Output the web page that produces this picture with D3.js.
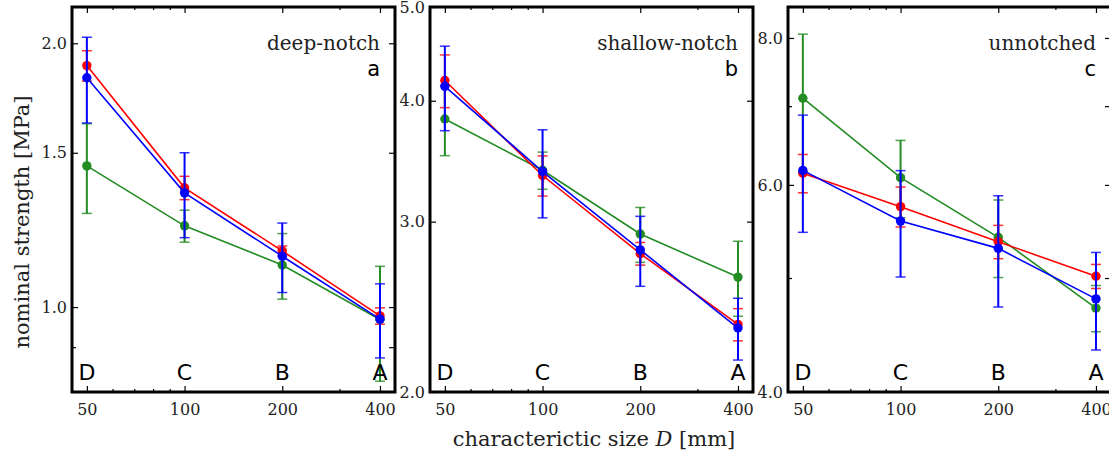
<!DOCTYPE html>
<html>
<head>
<meta charset="utf-8">
<script src="https://cdn.jsdelivr.net/npm/d3@7"></script>
<style>
  body { margin: 0; background: #fff; }
  svg { display: block; }
</style>
</head>
<body>
<svg id="chart" width="1109" height="454"></svg>
<script>
// characteristic sizes D [mm] and specimen labels
var sizes = [50, 100, 200, 400];
var sizeLetters = ["D", "C", "B", "A"];
var xMinor = [60, 70, 80, 90, 300];

var panelNames = ["deep-notch", "shallow-notch", "unnotched"];
var panelTags = ["a", "b", "c"];

// nominal strength [MPa], mean and error, per panel
var deepGreen = [1.449, 1.238, 1.117, 0.968];
var deepGreenErr = [0.17, 0.052, 0.096, 0.145];
var deepRed = [1.886, 1.368, 1.159, 0.977];
var deepRedErr = [0.075, 0.042, 0.015, 0.021];
var deepBlue = [1.827, 1.35, 1.143, 0.969];
var deepBlueErr = [0.205, 0.15, 0.104, 0.094];

var shallowGreen = [3.83, 3.39, 2.913, 2.629];
var shallowGreenErr = [0.32, 0.15, 0.19, 0.234];
var shallowRed = [4.198, 3.348, 2.78, 2.349];
var shallowRedErr = [0.263, 0.16, 0.075, 0.09];
var shallowBlue = [4.14, 3.38, 2.805, 2.329];
var shallowBlueErr = [0.415, 0.353, 0.233, 0.171];

var unGreen = [7.11, 6.086, 5.415, 4.714];
var unGreenErr = [0.95, 0.46, 0.41, 0.213];
var unRed = [6.138, 5.75, 5.368, 5.017];
var unRedErr = [0.23, 0.225, 0.175, 0.118];
var unBlue = [6.173, 5.59, 5.299, 4.80];
var unBlueErr = [0.705, 0.58, 0.575, 0.457];

// y axes (log): domain, labelled ticks, unlabelled ticks
var yDomains = [[0.8, 2.2], [2.0, 5.0], [4.0, 8.5]];
var yLabelled = [[1.0, 1.5, 2.0], [2.0, 3.0, 4.0, 5.0], [4.0, 6.0, 8.0]];
var yMinor = [[0.9], [], [5.0, 7.0]];

var colors = { green: "#238c23", red: "#ff0000", blue: "#0000ff" };

var panelData = [
    [["green", deepGreen, deepGreenErr], ["red", deepRed, deepRedErr], ["blue", deepBlue, deepBlueErr]],
    [["green", shallowGreen, shallowGreenErr], ["red", shallowRed, shallowRedErr], ["blue", shallowBlue, shallowBlueErr]],
    [["green", unGreen, unGreenErr], ["red", unRed, unRedErr], ["blue", unBlue, unBlueErr]]
];

var svg = d3.select("#chart");
svg.append("rect").attr("width", 1109).attr("height", 454).attr("fill", "#fff");

var lefts = [72, 430, 788],
    marginTop = 7,
    width = 323,
    height = 385;

var x = d3.scaleLog().domain([45, 445]).range([0, width]);

function strip(sel) {
    sel.select(".domain").remove();
    sel.selectAll(".tick line").attr("stroke", "#000").attr("stroke-width", 1.2);
    sel.selectAll(".tick text")
        .attr("font-family", "DejaVu Serif, serif")
        .attr("font-size", 16)
        .attr("fill", "#222");
}

lefts.forEach(function (left, i) {
    var y = d3.scaleLog().domain(yDomains[i]).range([height, 0]);
    var g = svg.append("g").attr("transform", "translate(" + left + "," + marginTop + ")");

    // ticks, all pointing inward
    g.append("g").attr("transform", "translate(0," + height + ")")
        .call(d3.axisBottom(x).tickValues(sizes).tickFormat(d3.format("d")).tickSize(-6).tickPadding(12))
        .call(strip);
    g.append("g").attr("transform", "translate(0," + height + ")")
        .call(d3.axisBottom(x).tickValues(xMinor).tickFormat("").tickSize(-3))
        .call(strip);
    g.append("g")
        .call(d3.axisTop(x).tickValues(sizes).tickFormat("").tickSize(-6))
        .call(strip);
    g.append("g")
        .call(d3.axisTop(x).tickValues(xMinor).tickFormat("").tickSize(-3))
        .call(strip);

    g.append("g")
        .call(d3.axisLeft(y).tickValues(yLabelled[i]).tickFormat(d3.format(".1f")).tickSize(-6).tickPadding(5))
        .call(strip);
    g.append("g")
        .call(d3.axisLeft(y).tickValues(yMinor[i]).tickFormat("").tickSize(-4))
        .call(strip);
    g.append("g").attr("transform", "translate(" + width + ",0)")
        .call(d3.axisRight(y).tickValues(yLabelled[i].concat(yMinor[i])).tickFormat("").tickSize(-6))
        .call(strip);

    // series
    panelData[i].forEach(function (s) {
        var c = colors[s[0]], vals = s[1], errs = s[2];
        var pts = sizes.map(function (d, k) { return { x: d, v: vals[k], e: errs[k] }; });
        var sg = g.append("g");

        sg.append("path")
            .datum(pts)
            .attr("fill", "none")
            .attr("stroke", c)
            .attr("stroke-width", 1.6)
            .attr("d", d3.line().x(function (d) { return x(d.x); }).y(function (d) { return y(d.v); }));

        var eb = sg.selectAll(".err").data(pts).enter().append("g");
        eb.append("line")
            .attr("x1", function (d) { return x(d.x); })
            .attr("x2", function (d) { return x(d.x); })
            .attr("y1", function (d) { return y(d.v + d.e); })
            .attr("y2", function (d) { return y(d.v - d.e); })
            .attr("stroke", c).attr("stroke-width", 2);
        [1, -1].forEach(function (sgn) {
            eb.append("line")
                .attr("x1", function (d) { return x(d.x) - 5; })
                .attr("x2", function (d) { return x(d.x) + 5; })
                .attr("y1", function (d) { return y(d.v + sgn * d.e); })
                .attr("y2", function (d) { return y(d.v + sgn * d.e); })
                .attr("stroke", c).attr("stroke-width", 1.5).attr("opacity", 0.8);
        });

        sg.selectAll("circle").data(pts).enter().append("circle")
            .attr("cx", function (d) { return x(d.x); })
            .attr("cy", function (d) { return y(d.v); })
            .attr("r", 4.7)
            .attr("fill", c);
    });

    // D C B A letters
    g.selectAll(".letter").data(sizes).enter().append("text")
        .attr("x", function (d) { return x(d); })
        .attr("y", height - 12)
        .attr("text-anchor", "middle")
        .attr("font-family", "DejaVu Sans, sans-serif")
        .attr("font-size", 22)
        .text(function (d, k) { return sizeLetters[k]; });

    g.append("text")
        .attr("x", width - 15).attr("y", 43)
        .attr("text-anchor", "end")
        .attr("font-family", "DejaVu Serif, serif")
        .attr("font-size", 20)
        .attr("fill", "#222")
        .text(panelNames[i]);
    g.append("text")
        .attr("x", width - 15).attr("y", 69)
        .attr("text-anchor", "end")
        .attr("font-family", "DejaVu Sans, sans-serif")
        .attr("font-size", 21)
        .text(panelTags[i]);

    g.append("rect")
        .attr("width", width).attr("height", height)
        .attr("fill", "none").attr("stroke", "#000").attr("stroke-width", 3);
});

svg.append("text")
    .attr("transform", "translate(29,222) rotate(-90)")
    .attr("text-anchor", "middle")
    .attr("font-family", "DejaVu Serif, serif")
    .attr("font-size", 21)
    .attr("fill", "#222")
    .text("nominal strength [MPa]");

var xl = svg.append("text")
    .attr("x", 594).attr("y", 446)
    .attr("text-anchor", "middle")
    .attr("font-family", "DejaVu Serif, serif")
    .attr("font-size", 21)
    .attr("fill", "#222");
xl.append("tspan").text("characterictic size ");
xl.append("tspan").attr("font-style", "italic").text("D");
xl.append("tspan").text(" [mm]");
</script>
</body>
</html>
